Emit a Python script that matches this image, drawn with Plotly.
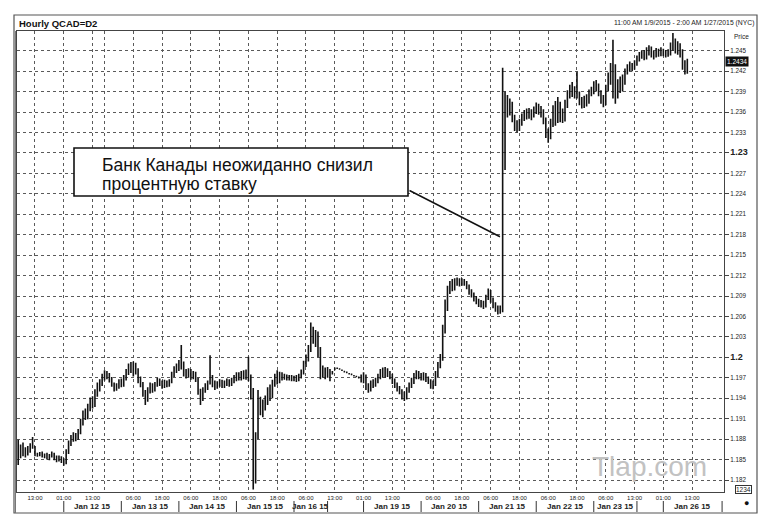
import plotly.graph_objects as go

# ---------------- data (hourly bars) ----------------
opens = [
    1.1870, 1.1858, 1.1866, 1.1860, 1.1862, 1.1865, 1.1871, 1.1868, 1.1858, 1.1857,
    1.1859, 1.1855, 1.1857, 1.1853, 1.1856, 1.1858, 1.1852, 1.1850, 1.1853, 1.1848,
    1.1846, 1.1862, 1.1874, 1.1880, 1.1885, 1.1882, 1.1890, 1.1905, 1.1918, 1.1912,
    1.1926, 1.1935, 1.1930, 1.1948, 1.1957, 1.1962, 1.1970, 1.1976, 1.1973, 1.1968,
    1.1960, 1.1955, 1.1958, 1.1964, 1.1960, 1.1970, 1.1978, 1.1986, 1.1982, 1.1989,
    1.1980, 1.1968, 1.1961, 1.1948, 1.1940, 1.1952, 1.1958, 1.1953, 1.1960, 1.1966,
    1.1962, 1.1958, 1.1963, 1.1960, 1.1965, 1.1975, 1.1982, 1.1986, 1.1992, 1.1990,
    1.1978, 1.1975, 1.1980, 1.1972, 1.1976, 1.1968, 1.1950, 1.1940, 1.1952, 1.1958,
    1.1962, 1.1970, 1.1962, 1.1958, 1.1961, 1.1964, 1.1959, 1.1962, 1.1965, 1.1961,
    1.1966, 1.1970, 1.1974, 1.1970, 1.1976, 1.1972, 1.1978, 1.1970, 1.1945, 1.1850,
    1.1885, 1.1935, 1.1925, 1.1930, 1.1938, 1.1950, 1.1945, 1.1962, 1.1970, 1.1966,
    1.1974, 1.1970, 1.1972, 1.1969, 1.1971, 1.1968, 1.1970, 1.1967, 1.1972, 1.1978,
    1.1990, 1.1998, 1.2012, 1.2035, 1.2028, 1.2035, 1.2010, 1.1975, 1.1982, 1.1974,
    1.1980, 1.1976, 1.1981, 1.1984, 1.1983, 1.1981, 1.1979, 1.1978, 1.1976, 1.1975,
    1.1973, 1.1972, 1.1970, 1.1970, 1.1966, 1.1972, 1.1958, 1.1954, 1.1962, 1.1960,
    1.1966, 1.1972, 1.1978, 1.1974, 1.1981, 1.1976, 1.1972, 1.1965, 1.1960, 1.1955,
    1.1950, 1.1945, 1.1942, 1.1952, 1.1958, 1.1965, 1.1972, 1.1976, 1.1973, 1.1970,
    1.1974, 1.1968, 1.1965, 1.1958, 1.1962, 1.1975, 1.1988, 1.2000, 1.2040, 1.2075,
    1.2098, 1.2105, 1.2102, 1.2110, 1.2112, 1.2108, 1.2112, 1.2109, 1.2104, 1.2097,
    1.2092, 1.2086, 1.2082, 1.2078, 1.2080, 1.2076, 1.2088, 1.2096, 1.2085, 1.2078,
    1.2072, 1.2068, 1.2070, 1.2290, 1.2372, 1.2360, 1.2368, 1.2350, 1.2340, 1.2336,
    1.2345, 1.2352, 1.2358, 1.2354, 1.2360, 1.2356, 1.2362, 1.2368, 1.2363, 1.2360,
    1.2348, 1.2330, 1.2325, 1.2345, 1.2362, 1.2350, 1.2368, 1.2358, 1.2350, 1.2370,
    1.2385, 1.2394, 1.2388, 1.2392, 1.2385, 1.2376, 1.2372, 1.2378, 1.2375, 1.2388,
    1.2392, 1.2400, 1.2396, 1.2388, 1.2378, 1.2375, 1.2395, 1.2410, 1.2425, 1.2395,
    1.2385, 1.2400, 1.2395, 1.2405, 1.2418, 1.2425, 1.2428, 1.2426, 1.2430, 1.2438,
    1.2442, 1.2445, 1.2440, 1.2448, 1.2452, 1.2446, 1.2444, 1.2449, 1.2446, 1.2450,
    1.2447, 1.2444, 1.2448, 1.2455, 1.2462, 1.2452, 1.2458, 1.2448, 1.2430, 1.2420,
]
highs = [
    1.1879, 1.1872, 1.1875, 1.1868, 1.1870, 1.1874, 1.1883, 1.1870, 1.1860, 1.1861,
    1.1862, 1.1859, 1.1860, 1.1858, 1.1862, 1.1860, 1.1856, 1.1856, 1.1855, 1.1852,
    1.1865, 1.1878, 1.1886, 1.1890, 1.1889, 1.1895, 1.1910, 1.1922, 1.1925, 1.1932,
    1.1941, 1.1943, 1.1953, 1.1963, 1.1968, 1.1976, 1.1981, 1.1980, 1.1977, 1.1971,
    1.1963, 1.1962, 1.1968, 1.1969, 1.1974, 1.1983, 1.1991, 1.1993, 1.1994, 1.1992,
    1.1984, 1.1972, 1.1964, 1.1952, 1.1956, 1.1963, 1.1962, 1.1964, 1.1970, 1.1969,
    1.1966, 1.1967, 1.1966, 1.1968, 1.1979, 1.1987, 1.1991, 1.1996, 1.2018, 1.1994,
    1.1983, 1.1984, 1.1983, 1.1980, 1.1979, 1.1970, 1.1954, 1.1956, 1.1962, 1.1966,
    1.2003, 1.1974, 1.1966, 1.1965, 1.1968, 1.1967, 1.1966, 1.1969, 1.1968, 1.1970,
    1.1974, 1.1978, 1.1978, 1.1980, 1.1981, 1.1982, 1.2001, 1.1975, 1.1955, 1.1890,
    1.1952, 1.1942, 1.1938, 1.1944, 1.1956, 1.1960, 1.1967, 1.1976, 1.1981, 1.1979,
    1.1978, 1.1976, 1.1975, 1.1974, 1.1974, 1.1973, 1.1974, 1.1976, 1.1982, 1.1995,
    1.2004, 1.2018, 1.2051, 1.2045, 1.2040, 1.2038, 1.2015, 1.1988, 1.1985, 1.1986,
    1.1983, 1.1980, 1.1985, 1.1985, 1.1984, 1.1982, 1.1980, 1.1979, 1.1977, 1.1976,
    1.1974, 1.1973, 1.1972, 1.1975, 1.1978, 1.1975, 1.1962, 1.1966, 1.1968, 1.1970,
    1.1976, 1.1983, 1.1985, 1.1986, 1.1984, 1.1980, 1.1976, 1.1969, 1.1963, 1.1958,
    1.1953, 1.1950, 1.1956, 1.1963, 1.1970, 1.1977, 1.1981, 1.1980, 1.1977, 1.1978,
    1.1977, 1.1972, 1.1968, 1.1966, 1.1980, 1.1993, 1.2005, 1.2048, 1.2085, 1.2105,
    1.2112, 1.2115, 1.2116, 1.2117, 1.2116, 1.2116, 1.2115, 1.2112, 1.2107, 1.2100,
    1.2095, 1.2090, 1.2086, 1.2084, 1.2083, 1.2092, 1.2101, 1.2099, 1.2088, 1.2081,
    1.2076, 1.2076, 1.2425, 1.2390, 1.2385, 1.2380, 1.2375, 1.2356, 1.2348, 1.2350,
    1.2358, 1.2363, 1.2365, 1.2366, 1.2364, 1.2368, 1.2374, 1.2372, 1.2369, 1.2364,
    1.2352, 1.2336, 1.2350, 1.2370, 1.2376, 1.2382, 1.2375, 1.2365, 1.2378, 1.2392,
    1.2400, 1.2404, 1.2398, 1.2419, 1.2390, 1.2382, 1.2384, 1.2386, 1.2393, 1.2397,
    1.2405, 1.2407, 1.2402, 1.2392, 1.2385, 1.2400, 1.2418, 1.2432, 1.2466, 1.2430,
    1.2408, 1.2412, 1.2415, 1.2424, 1.2430, 1.2434, 1.2432, 1.2436, 1.2443, 1.2448,
    1.2450, 1.2451, 1.2455, 1.2458, 1.2456, 1.2450, 1.2454, 1.2453, 1.2455, 1.2453,
    1.2451, 1.2452, 1.2462, 1.2476, 1.2468, 1.2464, 1.2461, 1.2452, 1.2436, 1.2438,
]
lows = [
    1.1842, 1.1852, 1.1855, 1.1853, 1.1856, 1.1860, 1.1866, 1.1855, 1.1854, 1.1855,
    1.1853, 1.1852, 1.1850, 1.1849, 1.1853, 1.1849, 1.1846, 1.1847, 1.1845, 1.1841,
    1.1843, 1.1858, 1.1870, 1.1876, 1.1877, 1.1879, 1.1887, 1.1900, 1.1908, 1.1909,
    1.1921, 1.1925, 1.1927, 1.1942, 1.1950, 1.1958, 1.1966, 1.1968, 1.1963, 1.1957,
    1.1950, 1.1951, 1.1954, 1.1956, 1.1957, 1.1966, 1.1974, 1.1977, 1.1972, 1.1975,
    1.1962, 1.1956, 1.1942, 1.1930, 1.1935, 1.1947, 1.1948, 1.1950, 1.1957, 1.1958,
    1.1954, 1.1955, 1.1956, 1.1957, 1.1962, 1.1971, 1.1977, 1.1980, 1.1982, 1.1972,
    1.1969, 1.1970, 1.1967, 1.1968, 1.1964, 1.1945, 1.1930, 1.1936, 1.1948, 1.1952,
    1.1960, 1.1956, 1.1952, 1.1954, 1.1957, 1.1955, 1.1955, 1.1958, 1.1957, 1.1958,
    1.1962, 1.1965, 1.1966, 1.1966, 1.1968, 1.1967, 1.1965, 1.1938, 1.1806, 1.1815,
    1.1880, 1.1915, 1.1912, 1.1922, 1.1930, 1.1936, 1.1940, 1.1957, 1.1960, 1.1962,
    1.1966, 1.1967, 1.1966, 1.1966, 1.1965, 1.1965, 1.1964, 1.1965, 1.1969, 1.1975,
    1.1986, 1.1994, 1.2008, 1.2020, 1.2015, 1.2000, 1.1968, 1.1970, 1.1968, 1.1970,
    1.1965, 1.1975, 1.1981, 1.1983, 1.1982, 1.1980, 1.1978, 1.1977, 1.1975, 1.1974,
    1.1972, 1.1971, 1.1969, 1.1963, 1.1962, 1.1952, 1.1948, 1.1950, 1.1955, 1.1957,
    1.1962, 1.1968, 1.1970, 1.1970, 1.1971, 1.1968, 1.1961, 1.1955, 1.1950, 1.1946,
    1.1938, 1.1936, 1.1938, 1.1948, 1.1955, 1.1961, 1.1968, 1.1968, 1.1966, 1.1966,
    1.1964, 1.1961, 1.1954, 1.1953, 1.1958, 1.1971, 1.1984, 1.1995, 1.2035, 1.2068,
    1.2093, 1.2097, 1.2098, 1.2105, 1.2104, 1.2105, 1.2105, 1.2100, 1.2092, 1.2088,
    1.2082, 1.2078, 1.2074, 1.2073, 1.2071, 1.2073, 1.2084, 1.2080, 1.2072, 1.2067,
    1.2063, 1.2064, 1.2066, 1.2275, 1.2352, 1.2355, 1.2345, 1.2332, 1.2330, 1.2332,
    1.2340, 1.2347, 1.2349, 1.2350, 1.2348, 1.2352, 1.2357, 1.2356, 1.2352, 1.2342,
    1.2322, 1.2315, 1.2320, 1.2338, 1.2340, 1.2344, 1.2345, 1.2344, 1.2346, 1.2366,
    1.2380, 1.2382, 1.2380, 1.2380, 1.2370, 1.2365, 1.2366, 1.2368, 1.2372, 1.2383,
    1.2386, 1.2390, 1.2383, 1.2372, 1.2367, 1.2370, 1.2390, 1.2400, 1.2380, 1.2372,
    1.2380, 1.2388, 1.2390, 1.2400, 1.2415, 1.2420, 1.2420, 1.2422, 1.2428, 1.2434,
    1.2438, 1.2436, 1.2437, 1.2443, 1.2440, 1.2437, 1.2440, 1.2441, 1.2442, 1.2442,
    1.2440, 1.2441, 1.2443, 1.2450, 1.2446, 1.2444, 1.2440, 1.2422, 1.2415, 1.2416,
]
closes = [
    1.1858, 1.1866, 1.1860, 1.1862, 1.1865, 1.1871, 1.1868, 1.1858, 1.1857, 1.1859,
    1.1855, 1.1857, 1.1853, 1.1856, 1.1858, 1.1852, 1.1850, 1.1853, 1.1848, 1.1846,
    1.1862, 1.1874, 1.1880, 1.1885, 1.1882, 1.1890, 1.1905, 1.1918, 1.1912, 1.1926,
    1.1935, 1.1930, 1.1948, 1.1957, 1.1962, 1.1970, 1.1976, 1.1973, 1.1968, 1.1960,
    1.1955, 1.1958, 1.1964, 1.1960, 1.1970, 1.1978, 1.1986, 1.1982, 1.1989, 1.1980,
    1.1968, 1.1961, 1.1948, 1.1940, 1.1952, 1.1958, 1.1953, 1.1960, 1.1966, 1.1962,
    1.1958, 1.1963, 1.1960, 1.1965, 1.1975, 1.1982, 1.1986, 1.1992, 1.1990, 1.1978,
    1.1975, 1.1980, 1.1972, 1.1976, 1.1968, 1.1950, 1.1940, 1.1952, 1.1958, 1.1962,
    1.1970, 1.1962, 1.1958, 1.1961, 1.1964, 1.1959, 1.1962, 1.1965, 1.1961, 1.1966,
    1.1970, 1.1974, 1.1970, 1.1976, 1.1972, 1.1978, 1.1970, 1.1945, 1.1850, 1.1885,
    1.1935, 1.1925, 1.1930, 1.1938, 1.1950, 1.1945, 1.1962, 1.1970, 1.1966, 1.1974,
    1.1970, 1.1972, 1.1969, 1.1971, 1.1968, 1.1970, 1.1967, 1.1972, 1.1978, 1.1990,
    1.1998, 1.2012, 1.2035, 1.2028, 1.2035, 1.2010, 1.1975, 1.1982, 1.1974, 1.1980,
    1.1970, 1.1978, 1.1983, 1.1984, 1.1983, 1.1981, 1.1979, 1.1978, 1.1976, 1.1975,
    1.1973, 1.1972, 1.1970, 1.1966, 1.1972, 1.1958, 1.1954, 1.1962, 1.1960, 1.1966,
    1.1972, 1.1978, 1.1974, 1.1981, 1.1976, 1.1972, 1.1965, 1.1960, 1.1955, 1.1950,
    1.1945, 1.1942, 1.1952, 1.1958, 1.1965, 1.1972, 1.1976, 1.1973, 1.1970, 1.1974,
    1.1968, 1.1965, 1.1958, 1.1962, 1.1975, 1.1988, 1.2000, 1.2040, 1.2075, 1.2098,
    1.2105, 1.2102, 1.2110, 1.2112, 1.2108, 1.2112, 1.2109, 1.2104, 1.2097, 1.2092,
    1.2086, 1.2082, 1.2078, 1.2080, 1.2076, 1.2088, 1.2096, 1.2085, 1.2078, 1.2072,
    1.2068, 1.2070, 1.2290, 1.2372, 1.2360, 1.2368, 1.2350, 1.2340, 1.2336, 1.2345,
    1.2352, 1.2358, 1.2354, 1.2360, 1.2356, 1.2362, 1.2368, 1.2363, 1.2360, 1.2348,
    1.2330, 1.2325, 1.2345, 1.2362, 1.2350, 1.2368, 1.2358, 1.2350, 1.2370, 1.2385,
    1.2394, 1.2388, 1.2392, 1.2385, 1.2376, 1.2372, 1.2378, 1.2375, 1.2388, 1.2392,
    1.2400, 1.2396, 1.2388, 1.2378, 1.2375, 1.2395, 1.2410, 1.2425, 1.2395, 1.2385,
    1.2400, 1.2395, 1.2405, 1.2418, 1.2425, 1.2428, 1.2426, 1.2430, 1.2438, 1.2442,
    1.2445, 1.2440, 1.2448, 1.2452, 1.2446, 1.2444, 1.2449, 1.2446, 1.2450, 1.2447,
    1.2444, 1.2448, 1.2455, 1.2462, 1.2452, 1.2458, 1.2448, 1.2430, 1.2420, 1.2434,
]

# time-of-day tick labels (bar index -> label)
time_tick_bar = [7, 19, 31, 36, 48, 60, 72, 84, 96, 108, 120, 132, 144, 156, 161,
                 173, 185, 197, 209, 221, 233, 245, 257, 269, 281]
time_tick_text = ["13:00", "01:00", "13:00", "", "06:00", "18:00", "06:00", "18:00",
                  "06:00", "18:00", "06:00", "13:00", "01:00", "13:00", "", "06:00",
                  "18:00", "06:00", "18:00", "06:00", "18:00", "06:00", "13:00",
                  "01:00", "13:00"]

# date row (label, first bar boundary, last bar boundary)
day_labels = ["Jan 12 15", "Jan 13 15", "Jan 14 15", "Jan 15 15", "Jan 16 15",
              "Jan 19 15", "Jan 20 15", "Jan 21 15", "Jan 22 15", "Jan 23 15",
              "Jan 26 15"]
day_start = [19, 43, 67, 91, 115, 144, 168, 192, 216, 240, 269]
day_end = [43, 67, 91, 115, 129, 168, 192, 216, 240, 258, 293.5]

price_ticks = [1.182, 1.185, 1.188, 1.191, 1.194, 1.197, 1.200, 1.203, 1.206, 1.209,
               1.212, 1.215, 1.218, 1.221, 1.224, 1.227, 1.230, 1.233, 1.236, 1.239,
               1.242, 1.245]
price_tick_text = ["1.182", "1.185", "1.188", "1.191", "1.194", "1.197",
                   "<span style='font-size:9px'><b>1.2</b></span>",
                   "1.203", "1.206", "1.209", "1.212", "1.215", "1.218", "1.221",
                   "1.224", "1.227",
                   "<span style='font-size:9px'><b>1.23</b></span>",
                   "1.233", "1.236", "1.239", "1.242", "1.245"]
last_price = 1.2434

event_bar = 200.9       # point the callout line touches
event_price = 1.2177
callout_lines = ["Банк Канады неожиданно снизил", "процентную ставку"]

# ---------------- layout helpers ----------------
W, H = 764, 527
L, R, T, B = 17, 724, 31, 492
PW, PH = R - L, B - T


def px(xp):
    return (xp - L) / PW


def py(yp):
    return (B - yp) / PH


FONT = "Liberation Sans, Arial, sans-serif"
bars = list(range(len(closes)))

fig = go.Figure(go.Ohlc(
    x=bars, open=opens, high=highs, low=lows, close=closes,
    increasing=dict(line=dict(color="#111111", width=1.6)),
    decreasing=dict(line=dict(color="#111111", width=1.6)),
    tickwidth=0.3, hoverinfo="skip", showlegend=False,
))

shapes = []
# outer frame
shapes.append(dict(type="rect", xref="paper", yref="paper",
                   x0=px(14), x1=px(757), y0=py(513), y1=py(15),
                   line=dict(color="#555555", width=1.2)))
# double left edge
shapes.append(dict(type="line", xref="paper", yref="paper",
                   x0=px(15.5), x1=px(15.5), y0=py(513), y1=py(31),
                   line=dict(color="#777777", width=1)))
# date separators
for b in sorted(set(day_start + day_end)):
    shapes.append(dict(type="line", xref="x", yref="paper", x0=b, x1=b,
                       y0=py(501), y1=py(512),
                       line=dict(color="#333333", width=1)))
# callout box
shapes.append(dict(type="rect", xref="paper", yref="paper",
                   x0=px(74), x1=px(408), y0=py(196), y1=py(148),
                   line=dict(color="#111111", width=1.6), fillcolor="white",
                   layer="above"))

ann = []
ann.append(dict(text="<b>Hourly QCAD=D2</b>", xref="paper", yref="paper",
                x=px(17), y=py(23), xanchor="left", yanchor="middle",
                showarrow=False, font=dict(family=FONT, size=9.5, color="#111")))
ann.append(dict(text="11:00 AM 1/9/2015 - 2:00 AM 1/27/2015 (NYC)", xref="paper",
                yref="paper", x=px(756), y=py(23), xanchor="right", yanchor="middle",
                showarrow=False, font=dict(family=FONT, size=6.8, color="#222")))
ann.append(dict(text="Price", xref="paper", yref="paper", x=px(732), y=py(36),
                xanchor="left", yanchor="middle", showarrow=False,
                font=dict(family=FONT, size=6.5, color="#222")))
ann.append(dict(text="%.4f" % last_price, xref="paper", yref="y", x=px(725),
                y=last_price, xanchor="left", yanchor="middle", showarrow=False,
                bgcolor="#111111", borderpad=1,
                font=dict(family=FONT, size=6.5, color="white")))
for lab, s, e in zip(day_labels, day_start, day_end):
    ann.append(dict(text="<b>%s</b>" % lab, xref="x", yref="paper", x=(s + e) / 2,
                    y=py(506.5), xanchor="center", yanchor="middle",
                    showarrow=False, font=dict(family=FONT, size=8, color="#222")))
# callout text
ann.append(dict(text=callout_lines[0], xref="paper", yref="paper", x=px(100),
                y=py(165), xanchor="left", yanchor="middle", showarrow=False,
                font=dict(family=FONT, size=17.5, color="#111")))
ann.append(dict(text=callout_lines[1], xref="paper", yref="paper", x=px(100),
                y=py(183.5), xanchor="left", yanchor="middle", showarrow=False,
                font=dict(family=FONT, size=17.5, color="#111")))
# callout pointer line
ann.append(dict(text="", x=event_bar, y=event_price, xref="x", yref="y",
                showarrow=True, arrowhead=0, arrowwidth=1.5, arrowcolor="#111",
                ax=-92, ay=-47, standoff=0, startstandoff=0))
# watermark
ann.append(dict(text="Tlap.com", xref="paper", yref="paper", x=px(649), y=py(466),
                xanchor="center", yanchor="middle", showarrow=False,
                font=dict(family=FONT, size=28, color="#c2c2c2")))
ann.append(dict(text="1234", xref="paper", yref="paper", x=px(743), y=py(489),
                xanchor="center", yanchor="middle", showarrow=False,
                bordercolor="#333", borderwidth=1, borderpad=0,
                font=dict(family=FONT, size=6.5, color="#222")))
ann.append(dict(text="●", xref="paper", yref="paper", x=px(746), y=py(503),
                xanchor="center", yanchor="middle", showarrow=False,
                font=dict(family=FONT, size=9, color="#111")))

fig.update_layout(
    width=W, height=H, template="none",
    margin=dict(l=L, r=W - R, t=T, b=H - B, pad=0),
    paper_bgcolor="white", plot_bgcolor="white",
    font=dict(family=FONT, color="#222"),
    showlegend=False,
    shapes=shapes, annotations=ann,
    xaxis=dict(
        range=[-0.5, 294.3], tickmode="array", tickvals=time_tick_bar,
        ticktext=time_tick_text, ticks="", showgrid=True, gridcolor="#5a5a5a",
        griddash="dot", gridwidth=1, zeroline=False, showline=True,
        linecolor="#444", linewidth=1, mirror=True,
        tickfont=dict(family=FONT, size=6, color="#222"),
        rangeslider=dict(visible=False), fixedrange=True,
    ),
    yaxis=dict(
        side="right", range=[1.18024, 1.24789], tickmode="array",
        tickvals=price_ticks, ticktext=price_tick_text, ticks="outside",
        ticklen=4, tickcolor="#444", showgrid=True, gridcolor="#5a5a5a",
        griddash="dot", gridwidth=1, zeroline=False, showline=True,
        linecolor="#444", linewidth=1, mirror=True,
        tickfont=dict(family=FONT, size=6.3, color="#222"), fixedrange=True,
    ),
)

fig.write_html("out.html")
